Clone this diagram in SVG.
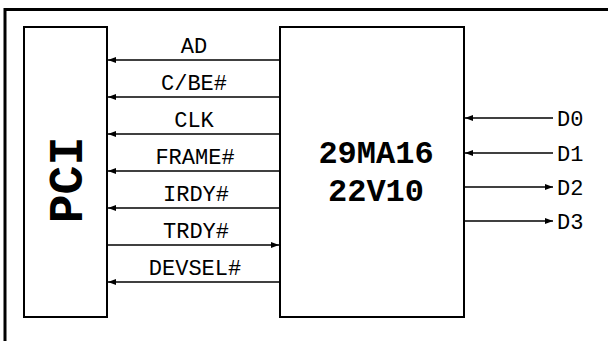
<svg xmlns="http://www.w3.org/2000/svg" width="608" height="341" viewBox="0 0 608 341">
<style>
.box{fill:#fff;stroke:#000;stroke-width:2}
.w{stroke:#000;stroke-width:1.6;fill:none}
.lbl{font-family:"Liberation Mono","Courier New",monospace;font-size:22px;fill:#000}
.big{font-family:"Liberation Mono","Courier New",monospace;font-weight:bold;fill:#000}
</style>
<defs>
<marker id="ah" viewBox="0 0 8 6" refX="8" refY="3" markerWidth="8" markerHeight="6" markerUnits="userSpaceOnUse" orient="auto">
<path d="M0,0 L8,3 L0,6 z" fill="#000"/>
</marker>
</defs>
<rect width="608" height="341" fill="#fff"/>
<path d="M5,341 V9.5 H608" fill="none" stroke="#000" stroke-width="3"/>
<g id="pci">
<rect class="box" x="24" y="27" width="83" height="290"/>
<text class="big" font-size="48" text-anchor="middle" transform="translate(82,180) rotate(-90)">PCI</text>
</g>
<g id="chip">
<rect class="box" x="280" y="27" width="184" height="290"/>
<text class="big" font-size="32" text-anchor="middle" x="376" y="163">29MA16</text>
<text class="big" font-size="32" text-anchor="middle" x="376" y="201">22V10</text>
</g>
<g id="connectors">
<line class="w" x1="280" y1="60" x2="108" y2="60" marker-end="url(#ah)"/>
<line class="w" x1="280" y1="97" x2="108" y2="97" marker-end="url(#ah)"/>
<line class="w" x1="280" y1="134" x2="108" y2="134" marker-end="url(#ah)"/>
<line class="w" x1="280" y1="171" x2="108" y2="171" marker-end="url(#ah)"/>
<line class="w" x1="280" y1="208" x2="108" y2="208" marker-end="url(#ah)"/>
<line class="w" x1="107" y1="245" x2="279" y2="245" marker-end="url(#ah)"/>
<line class="w" x1="280" y1="282" x2="108" y2="282" marker-end="url(#ah)"/>
<line class="w" x1="553" y1="118" x2="465" y2="118" marker-end="url(#ah)"/>
<line class="w" x1="553" y1="153" x2="465" y2="153" marker-end="url(#ah)"/>
<line class="w" x1="464" y1="187" x2="553" y2="187" marker-end="url(#ah)"/>
<line class="w" x1="464" y1="221" x2="553" y2="221" marker-end="url(#ah)"/>
</g>
<g id="labels" class="lbl" text-anchor="middle">
<text x="194" y="53">AD</text>
<text x="194" y="90">C/BE#</text>
<text x="194" y="127">CLK</text>
<text x="195" y="164">FRAME#</text>
<text x="196" y="201">IRDY#</text>
<text x="196" y="238">TRDY#</text>
<text x="195" y="275">DEVSEL#</text>
</g>
<g id="dlabels" class="lbl">
<text x="557" y="126">D0</text>
<text x="557" y="161">D1</text>
<text x="557" y="195">D2</text>
<text x="557" y="229">D3</text>
</g>
</svg>
